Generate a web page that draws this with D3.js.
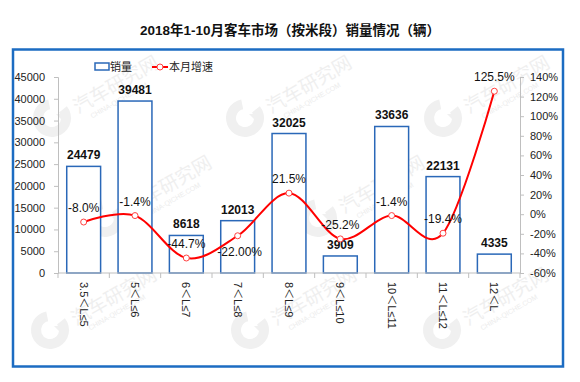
<!DOCTYPE html>
<html><head><meta charset="utf-8">
<script src="https://cdn.jsdelivr.net/npm/d3@7/dist/d3.min.js"></script>
<style>
body{margin:0;background:#fff;}
text{font-family:"Liberation Sans","Noto Sans CJK SC",sans-serif;}
</style></head>
<body><svg id="c" width="580" height="382"></svg>
<script>
const title = "2018年1-10月客车市场（按米段）销量情况（辆）";
const categories = ["3.5＜L≤5","5＜L≤6","6＜L≤7","7＜L≤8","8＜L≤9","9＜L≤10","10＜L≤11","11＜L≤12","12＜L"];
const sales = [24479,39481,8618,12013,32025,3909,33636,22131,4335];
const growth = [-8.0,-1.4,-44.7,-22.0,21.5,-25.2,-1.4,-19.4,125.5];
const growthLabels = ["-8.0%","-1.4%","-44.7%","-22.00%","21.5%","-25.2%","-1.4%","-19.4%","125.5%"];
const leftTicks = [0,5000,10000,15000,20000,25000,30000,35000,40000,45000];
const rightTicks = [-60,-40,-20,0,20,40,60,80,100,120,140];
const legendLabels = ["销量","本月增速"];

const svg = d3.select("#c");
const X0 = 58, X1 = 520, Y0 = 273, Y1 = 77;

// watermarks
const wm = svg.append("g");
const wmPos = [[52,118],[245,118],[443,118],[105,218],[318,218],[50,330],[250,330],[442,330]];
wmPos.forEach(([x,y])=>{
  const g = wm.append("g").attr("transform",`translate(${x},${y})`);
  g.append("path").attr("d",d3.arc()({innerRadius:9,outerRadius:19,startAngle:0.9,endAngle:2*Math.PI-0.2}))
   .attr("fill","#f0f0f0");
  g.append("path").attr("d","M4,-4 L16,-4 L16,8 Z").attr("fill","#f0f0f0");
  const t = g.append("g").attr("transform","translate(26,-4) rotate(-30)");
  t.append("text").text("汽车研究网").attr("font-size",19).attr("fill","#efefef");
  t.append("text").text("CHINA-QICHE.COM").attr("x",10).attr("y",11).attr("font-size",7).attr("fill","#ececec");
});

// frame
svg.append("rect").attr("x",13).attr("y",49.5).attr("width",550).attr("height",317)
  .attr("fill","none").attr("stroke","#1c6cc2").attr("stroke-width",2.5);

svg.append("text").attr("x",290).attr("y",35).attr("text-anchor","middle")
  .attr("font-size",13.5).attr("font-weight","bold").attr("fill","#111").text(title);

const x = d3.scaleBand().domain(categories).range([X0,X1]).paddingInner(0.34).paddingOuter(0.17);
const yL = d3.scaleLinear().domain([0,45000]).range([Y0,Y1]);
const yR = d3.scaleLinear().domain([-60,140]).range([Y0,Y1]);

// left axis
const gl = svg.append("g").attr("transform",`translate(${X0},0)`)
  .call(d3.axisLeft(yL).tickValues(leftTicks).tickSize(4).tickPadding(9).tickFormat(d3.format("d")));
gl.select(".domain").attr("stroke","#bfbfbf");
gl.selectAll(".tick line").attr("stroke","#bfbfbf");
gl.selectAll("text").attr("font-size",11).attr("fill","#222").attr("font-family",null);

// right axis
const gr = svg.append("g").attr("transform",`translate(${X1},0)`)
  .call(d3.axisRight(yR).tickValues(rightTicks).tickSize(4).tickPadding(6).tickFormat(d=>d+"%"));
gr.select(".domain").attr("stroke","#bfbfbf");
gr.selectAll(".tick line").attr("stroke","#bfbfbf");
gr.selectAll("text").attr("font-size",11).attr("fill","#222").attr("font-family",null);

// bars
svg.append("g").selectAll("rect").data(sales).join("rect")
  .attr("x",(d,i)=>x(categories[i])).attr("y",d=>yL(d))
  .attr("width",x.bandwidth()).attr("height",d=>Y0-yL(d))
  .attr("fill","#fff").attr("stroke","#2a68b8").attr("stroke-width",1.5);

// x axis
svg.append("line").attr("x1",X0).attr("x2",X1).attr("y1",Y0).attr("y2",Y0).attr("stroke","#bfbfbf");
const bounds = d3.range(categories.length+1).map(i=>X0 + i*x.step());
svg.append("g").selectAll("line").data(bounds).join("line")
  .attr("x1",d=>d).attr("x2",d=>d).attr("y1",Y0).attr("y2",Y0+5).attr("stroke","#bfbfbf");
svg.append("g").selectAll("text").data(categories).join("text")
  .attr("transform",d=>`translate(${x(d)+x.bandwidth()/2},282) rotate(90)`)
  .attr("dy","0.35em").attr("font-size",11).attr("fill","#222").text(d=>d);

// bar labels
svg.append("g").selectAll("text").data(sales).join("text")
  .attr("x",(d,i)=>x(categories[i])+x.bandwidth()/2).attr("y",d=>yL(d)-7)
  .attr("text-anchor","middle").attr("font-size",12).attr("font-weight","bold").attr("fill","#111")
  .text(d=>d);

// line
const cx = i=>x(categories[i])+x.bandwidth()/2;
const line = d3.line().x((d,i)=>cx(i)).y(d=>yR(d)).curve(d3.curveCardinal.tension(0));
svg.append("path").datum(growth).attr("d",line).attr("fill","none").attr("stroke","#ff0000").attr("stroke-width",2);
svg.append("g").selectAll("circle").data(growth).join("circle")
  .attr("cx",(d,i)=>cx(i)).attr("cy",d=>yR(d)).attr("r",3)
  .attr("fill","#fff").attr("stroke","#ff4040").attr("stroke-width",1);
svg.append("g").selectAll("text").data(growth).join("text")
  .attr("x",(d,i)=>cx(i)+(i===3?2:0)).attr("y",(d,i)=>i===3? yR(d)+20 : yR(d)-10)
  .attr("text-anchor","middle").attr("font-size",12).attr("fill","#111")
  .text((d,i)=>growthLabels[i]);

// legend
const lg = svg.append("g");
lg.append("rect").attr("x",95).attr("y",63).attr("width",14).attr("height",7)
  .attr("fill","#fff").attr("stroke","#2a68b8").attr("stroke-width",1.5);
lg.append("text").attr("x",110).attr("y",71).attr("font-size",11).attr("fill","#222").text(legendLabels[0]);
lg.append("line").attr("x1",152).attr("x2",168).attr("y1",67).attr("y2",67).attr("stroke","#ff0000").attr("stroke-width",2);
lg.append("circle").attr("cx",160).attr("cy",67).attr("r",3).attr("fill","#fff").attr("stroke","#ff4040");
lg.append("text").attr("x",169).attr("y",71).attr("font-size",11).attr("fill","#222").text(legendLabels[1]);
</script></body></html>
